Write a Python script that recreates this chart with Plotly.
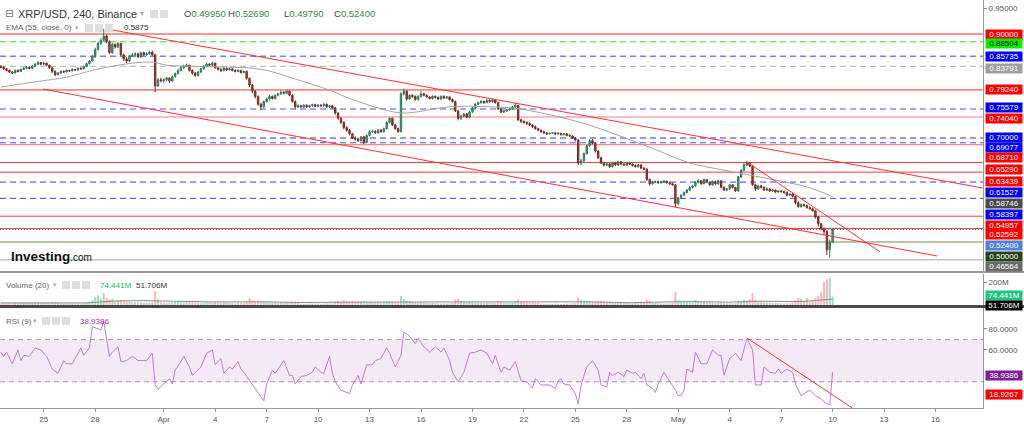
import plotly.graph_objects as go
import pandas as pd

# ---------------- data (prices in 1e-4 USD) ----------------
START = "2022-03-22 12:00"
FIRST_OPEN = 8380
CLOSE = [
    8360, 8330, 8300,
    8270, 8250, 8300, 8280, 8320, 8340,
    8360, 8340, 8380, 8420, 8450, 8420,
    8440, 8400, 8350, 8280, 8220, 8250,
    8280, 8270, 8300, 8290, 8320, 8310,
    8340, 8330, 8370, 8430, 8480, 8560,
    8700, 8820, 8880, 8960, 8850, 8640,
    8800, 8750, 8820, 8600, 8520, 8480,
    8580, 8600, 8620, 8560, 8640, 8600,
    8620, 8650, 8600, 8000, 8120, 8100,
    8120, 8150, 8100, 8180, 8240, 8300,
    8350, 8380, 8400, 8300, 8250, 8200,
    8270, 8330, 8380, 8420, 8400, 8440,
    8350, 8320, 8300, 8340, 8310, 8330,
    8300, 8280, 8300, 8260, 8280, 8150,
    8020, 7900, 7800, 7650, 7600, 7700,
    7750, 7800, 7760, 7820, 7850, 7880,
    7860, 7900, 7820, 7700, 7600, 7620,
    7600, 7630, 7600, 7620, 7640, 7610,
    7630, 7620, 7650, 7600, 7620, 7580,
    7480, 7380, 7300, 7200, 7150, 7080,
    7000, 6980, 6950, 7020, 6920, 7050,
    7120, 7130, 7100, 7150, 7120, 7180,
    7300, 7380, 7250, 7180, 7120, 7850,
    7900, 7750, 7820, 7800, 7740, 7800,
    7850, 7820, 7790, 7760, 7800, 7780,
    7750, 7800, 7770, 7790, 7740, 7700,
    7520, 7380, 7420, 7460, 7400, 7500,
    7580, 7650, 7680, 7700, 7680, 7720,
    7700, 7730, 7680, 7560, 7500, 7520,
    7540, 7560, 7600, 7630, 7350, 7320,
    7300, 7280, 7250, 7220, 7180, 7150,
    7120, 7100, 7080, 7090, 7100, 7080,
    7090, 7060, 7080, 7050, 7040, 7000,
    6960, 6520, 6560, 6700, 6850, 6950,
    6900, 6750, 6620, 6520, 6480, 6500,
    6450, 6520, 6480, 6540, 6500, 6480,
    6520, 6500, 6470, 6450, 6480, 6420,
    6400, 6200, 6120, 6150, 6160, 6140,
    6150, 6170, 6140, 6120, 6100, 5740,
    5850, 5900, 5950, 6000, 6050, 6080,
    6150, 6180, 6120, 6200, 6150, 6100,
    6160, 6120, 6180, 6050, 6000, 6020,
    6100, 6050, 5980, 6250, 6380, 6480,
    6520, 6460, 6100, 6020, 6080, 6050,
    6000, 6020, 5980, 6000, 5960, 5980,
    5970, 5950, 5900, 5920, 5880, 5760,
    5680, 5720, 5700, 5660, 5640, 5600,
    5480, 5350, 5250, 5200, 4850, 4995,
    5240,
]
HIGH = [
    8400, 8380, 8350,
    8320, 8290, 8320, 8320, 8340, 8360,
    8390, 8380, 8400, 8440, 8480, 8460,
    8470, 8450, 8410, 8360, 8300, 8270,
    8300, 8300, 8320, 8310, 8340, 8330,
    8360, 8360, 8390, 8450, 8500, 8600,
    8740, 8860, 8920, 9100, 8990, 8880,
    8830, 8820, 8850, 8830, 8620, 8560,
    8600, 8630, 8650, 8640, 8660, 8660,
    8650, 8680, 8680, 8620, 8150, 8160,
    8150, 8180, 8170, 8200, 8260, 8330,
    8380, 8410, 8430, 8410, 8320, 8270,
    8290, 8350, 8400, 8450, 8440, 8470,
    8450, 8370, 8340, 8360, 8360, 8350,
    8340, 8320, 8320, 8310, 8300, 8300,
    8160, 8040, 7920, 7820, 7680, 7720,
    7780, 7830, 7820, 7840, 7870, 7920,
    7900, 7920, 7910, 7840, 7720, 7650,
    7640, 7650, 7650, 7640, 7660, 7660,
    7650, 7650, 7670, 7660, 7640, 7640,
    7600, 7500, 7400, 7320, 7230, 7170,
    7100, 7030, 7010, 7040, 7040, 7070,
    7150, 7160, 7150, 7170, 7170, 7200,
    7320, 7400, 7390, 7270, 7200, 7880,
    7950, 7920, 7840, 7840, 7820, 7820,
    7900, 7870, 7840, 7800, 7820, 7820,
    7800, 7820, 7820, 7810, 7800, 7760,
    7720, 7540, 7440, 7480, 7480, 7520,
    7600, 7670, 7700, 7730, 7720, 7760,
    7740, 7750, 7750, 7700, 7580, 7540,
    7560, 7580, 7620, 7680, 7640, 7370,
    7340, 7320, 7300, 7270, 7240, 7200,
    7160, 7140, 7110, 7100, 7110, 7110,
    7110, 7100, 7090, 7090, 7070, 7050,
    7020, 6980, 6600, 6720, 6870, 6980,
    6980, 6920, 6770, 6640, 6540, 6520,
    6520, 6540, 6530, 6560, 6560, 6510,
    6540, 6540, 6510, 6490, 6500, 6500,
    6440, 6420, 6220, 6170, 6180, 6180,
    6170, 6190, 6180, 6160, 6140, 6110,
    5870, 5920, 5970, 6020, 6070, 6100,
    6170, 6210, 6190, 6220, 6210, 6160,
    6180, 6180, 6200, 6190, 6070, 6040,
    6120, 6110, 6060, 6270, 6400, 6520,
    6560, 6540, 6480, 6120, 6100, 6100,
    6070, 6050, 6040, 6020, 6010, 6000,
    6000, 5990, 5970, 5940, 5940, 5890,
    5780, 5740, 5740, 5720, 5680, 5660,
    5620, 5500, 5370, 5280, 5230, 5050,
    5269,
]
LOW = [
    8340, 8310, 8280,
    8250, 8230, 8240, 8260, 8270, 8310,
    8320, 8320, 8330, 8370, 8400, 8400,
    8400, 8380, 8330, 8250, 8190, 8200,
    8230, 8250, 8260, 8270, 8280, 8290,
    8290, 8310, 8320, 8360, 8410, 8470,
    8540, 8680, 8790, 8860, 8820, 8620,
    8620, 8720, 8730, 8580, 8480, 8440,
    8460, 8560, 8580, 8540, 8540, 8580,
    8580, 8600, 8580, 7880, 7980, 8070,
    8060, 8090, 8060, 8080, 8160, 8220,
    8280, 8330, 8360, 8280, 8220, 8180,
    8180, 8250, 8310, 8360, 8380, 8380,
    8330, 8300, 8270, 8280, 8290, 8300,
    8280, 8260, 8260, 8240, 8240, 8120,
    7980, 7860, 7760, 7620, 7540, 7580,
    7680, 7720, 7740, 7740, 7800, 7830,
    7840, 7840, 7800, 7680, 7560, 7580,
    7580, 7580, 7580, 7580, 7600, 7590,
    7590, 7600, 7600, 7580, 7580, 7560,
    7450, 7350, 7270, 7170, 7120, 7050,
    6980, 6950, 6920, 6930, 6880, 6900,
    7030, 7090, 7080, 7080, 7100, 7100,
    7160, 7280, 7230, 7160, 7100, 7110,
    7820, 7720, 7730, 7770, 7720, 7720,
    7780, 7800, 7770, 7740, 7740, 7760,
    7730, 7730, 7750, 7750, 7720, 7680,
    7500, 7340, 7350, 7400, 7380, 7380,
    7480, 7560, 7630, 7660, 7660, 7670,
    7680, 7680, 7660, 7540, 7480, 7480,
    7500, 7520, 7540, 7580, 7330, 7290,
    7280, 7250, 7230, 7190, 7160, 7130,
    7100, 7080, 7060, 7070, 7080, 7060,
    7060, 7050, 7050, 7030, 7020, 6980,
    6940, 6480, 6480, 6540, 6680, 6830,
    6880, 6720, 6600, 6500, 6450, 6460,
    6420, 6430, 6460, 6460, 6480, 6460,
    6460, 6480, 6450, 6430, 6430, 6400,
    6380, 6180, 6080, 6100, 6130, 6120,
    6120, 6130, 6120, 6100, 6080, 5660,
    5700, 5830, 5880, 5930, 5980, 6030,
    6060, 6130, 6100, 6110, 6130, 6080,
    6080, 6100, 6100, 6030, 5980, 5980,
    6000, 6030, 5960, 5970, 6230, 6360,
    6460, 6440, 6080, 5980, 6000, 6030,
    5980, 5980, 5960, 5960, 5940, 5950,
    5950, 5930, 5880, 5890, 5860, 5720,
    5660, 5660, 5680, 5640, 5620, 5580,
    5450, 5300, 5220, 5150, 4750, 4700,
    4979,
]
VOLUME_M = [
    18, 15, 14,
    16, 14, 18, 15, 17, 16,
    20, 16, 18, 22, 24, 18,
    20, 18, 22, 28, 26, 18,
    12, 10, 12, 11, 14, 12,
    12, 11, 15, 25, 30, 40,
    70, 85, 55, 105, 65, 50,
    55, 35, 40, 45, 40, 30,
    28, 22, 25, 24, 26, 20,
    18, 20, 22, 120, 50, 25,
    20, 18, 22, 25, 28, 30,
    28, 22, 24, 26, 22, 20,
    18, 16, 18, 22, 20, 18,
    25, 20, 22, 24, 20, 18,
    16, 14, 18, 20, 18, 28,
    60, 40, 30, 35, 30, 25,
    22, 20, 18, 20, 18, 20,
    16, 18, 20, 28, 30, 20,
    12, 10, 10, 12, 11, 12,
    12, 10, 14, 15, 12, 14,
    30, 35, 28, 40, 30, 28,
    35, 25, 28, 30, 32, 30,
    25, 20, 18, 22, 20, 22,
    30, 28, 25, 22, 20, 80,
    55, 35, 30, 25, 22, 20,
    25, 20, 18, 16, 18, 15,
    14, 12, 14, 12, 14, 20,
    50, 55, 35, 30, 25, 28,
    25, 22, 24, 20, 18, 22,
    20, 18, 16, 28, 25, 18,
    16, 18, 20, 35, 50, 30,
    25, 22, 20, 22, 20, 18,
    12, 10, 10, 11, 10, 12,
    10, 9, 10, 11, 12, 15,
    18, 65, 45, 35, 30, 28,
    22, 25, 30, 35, 28, 25,
    25, 22, 18, 20, 18, 16,
    18, 16, 15, 18, 16, 20,
    22, 45, 35, 20, 18, 16,
    14, 12, 12, 14, 18, 113,
    45, 30, 25, 28, 25, 22,
    45, 30, 25, 28, 22, 20,
    18, 16, 20, 22, 18, 16,
    15, 14, 16, 40, 35, 45,
    40, 50, 105, 45, 30, 25,
    25, 22, 20, 18, 16, 15,
    14, 12, 15, 14, 22, 40,
    60, 55, 40, 60, 30, 35,
    60, 80, 110, 200, 225, 235,
    74.441,
]
# volume MA(20), read at candle indices
VMA_IDX = [0, 30, 40, 50, 60, 75, 90, 105, 120, 135, 145, 160, 175, 190, 205, 220, 240, 255, 265, 280, 286, 291]
VMA_VAL = [18, 18, 35, 38, 33, 26, 28, 22, 25, 25, 30, 27, 24, 25, 28, 20, 30, 25, 33, 30, 45, 51.706]
# EMA(55), read at candle indices
EMA_IDX = [0, 12, 23, 32, 38, 46, 53, 58, 65, 86, 93, 105, 116, 122, 140, 157, 180, 204, 228, 241, 258, 270, 282, 291]
EMA_VAL = [0.798, 0.808, 0.817, 0.830, 0.837, 0.844, 0.846, 0.840, 0.838, 0.835, 0.830, 0.810, 0.790, 0.776,
           0.748, 0.760, 0.757, 0.728, 0.680, 0.652, 0.633, 0.620, 0.606, 0.5875]
# RSI(9), read at candle indices
RSI_IDX = [0, 1, 2, 4, 6, 7, 8, 10, 12, 14, 16, 18, 20, 22, 23, 25, 28, 29, 31, 32, 35, 36, 38, 39, 41, 42, 44, 46, 48,
           51, 53, 54, 55, 57, 59, 60, 61, 63, 64, 66, 67, 70, 72, 74, 75, 77, 78, 80, 81, 83, 84, 85, 87, 88, 90, 92,
           93, 95, 96, 99, 101, 102, 103, 105, 107, 109, 110, 112, 113, 115, 116, 117, 119, 122, 123, 125, 126, 128,
           130, 131, 133, 135, 136, 138, 140, 141, 143, 145, 146, 148, 150, 152, 154, 155, 157, 158, 160, 162, 164,
           166, 168, 170, 172, 173, 175, 176, 178, 180, 182, 184, 186, 187, 189, 192, 194, 195, 196, 197, 199, 201,
           202, 203, 205, 207, 209, 210, 212, 213, 214, 216, 218, 219, 221, 222, 224, 225, 226, 228, 229, 230, 232,
           234, 236, 237, 238, 239, 240, 242, 243, 245, 247, 249, 251, 252, 253, 255, 256, 257, 259, 261, 263, 264,
           266, 267, 269, 271, 272, 273, 275, 277, 278, 280, 281, 283, 285, 287, 288, 290, 291]
RSI_VAL = [58, 54, 58, 47, 60, 50, 55, 54, 62, 60, 54, 42, 38, 50, 47, 47, 62, 55, 62, 82, 79, 87, 54, 58, 63, 49, 50,
           54, 50, 50, 57, 27, 23, 28, 33, 28, 41, 49, 54, 44, 36, 44, 57, 60, 46, 52, 38, 44, 42, 49, 42, 39, 31, 28,
           19, 12, 28, 41, 38, 50, 36, 36, 28, 35, 36, 39, 44, 39, 38, 54, 38, 30, 22, 19, 27, 36, 28, 46, 46, 50, 52,
           62, 57, 44, 55, 77, 73, 66, 71, 63, 58, 63, 58, 62, 50, 39, 30, 39, 57, 58, 60, 57, 47, 55, 39, 44, 41, 49,
           31, 30, 24, 33, 27, 27, 24, 31, 33, 28, 27, 19, 9, 27, 44, 50, 41, 27, 25, 39, 36, 39, 35, 41, 38, 39, 33,
           38, 27, 24, 20, 28, 39, 31, 22, 17, 17, 22, 42, 39, 58, 47, 47, 60, 55, 55, 36, 52, 54, 57, 50, 71, 60, 27,
           27, 44, 39, 38, 42, 38, 42, 39, 28, 17, 19, 22, 17, 14, 11, 8, 38.94]

# drawn trend lines (time, value)
UPPER_T = ["2022-03-28 16:30", "2022-05-18 18:28"]
UPPER_P = [0.9096, 0.6038]
LOWER_T = ["2022-03-24 23:00", "2022-05-16 02:10"]
LOWER_P = [0.7942, 0.4731]
SHORT_T = ["2022-05-05 00:15", "2022-05-12 18:30"]
SHORT_P = [0.6538, 0.4808]
RSI_TL_T = ["2022-05-05 00:00", "2022-05-11 03:10"]
RSI_TL_V = [71.4, 5.5]

# horizontal levels
HLEVELS = [0.90, 0.88504, 0.85735, 0.83791, 0.79240, 0.75579, 0.74040, 0.70000, 0.69077, 0.68710,
           0.65290, 0.63439, 0.61527, 0.58397, 0.54957, 0.52592, 0.50000, 0.46564]
HCOLORS = ["#ff2a2a", "#3ad83a", "#3c3cff", "#b0b0b0", "#ff2a2a", "#4b4bff", "#ff7a7a", "#3535c8", "#4b4bff",
           "#ff6a6a", "#ff3a3a", "#ff3a3a", "#3c3cff", "#3c3cff", "#ff3a3a", "#ff3a3a", "#6f9150", "#a8a8a8"]
HDASH = ["solid", "6px,4px", "6px,4px", "6px,4px", "solid", "6px,4px", "solid", "6px,4px", "6px,4px",
         "solid", "solid", "solid", "6px,4px", "6px,4px", "solid", "solid", "solid", "solid"]
LAST_PRICE = 0.52400

# right-axis labels
LBL_TEXT = ["0.90000", "0.88504", "0.85735", "0.83791", "0.79240", "0.75579", "0.74040", "0.70000", "0.69077",
            "0.68710", "0.65290", "0.63439", "0.61527", "0.58746", "0.58397", "0.54957", "0.52592", "0.52400",
            "0.50000", "0.46564", "74.441M", "51.706M", "38.9386", "18.9267"]
LBL_BG = ["#ff0000", "#00f000", "#0000ff", "#a0a0a0", "#ff0000", "#0000ff", "#ff0000", "#0000ff", "#0000ff",
          "#ff0000", "#ff0000", "#ff0000", "#0000ff", "#4a4a4a", "#0000ff", "#ff0000", "#ff0000", "#4f7fdc",
          "#26421c", "#6a6a6a", "#1fc47c", "#000000", "#7e1f96", "#ff0000"]
LBL_FG = ["white", "black"] + ["white"] * 22
LBL_Y = [34, 44, 57, 69, 89, 108, 119, 137, 147, 158, 169, 181, 192, 203, 214, 225, 235, 245, 256, 266,
         295, 305, 375, 394]

TICK_DATES = ["2022-03-25", "2022-03-28", "2022-04-01", "2022-04-04", "2022-04-07", "2022-04-10", "2022-04-13",
              "2022-04-16", "2022-04-19", "2022-04-22", "2022-04-25", "2022-04-28", "2022-05-01", "2022-05-04",
              "2022-05-07", "2022-05-10", "2022-05-13", "2022-05-16"]
TICK_TEXT = ["25", "28", "Apr", "4", "7", "10", "13", "16", "19", "22", "25", "28", "May", "4", "7", "10", "13", "16"]

# ---------------- build ----------------
n = min(len(CLOSE), len(HIGH), len(LOW), len(VOLUME_M))
t = pd.date_range(START, periods=n, freq="4h")
close = [v / 1e4 for v in CLOSE[:n]]
high = [v / 1e4 for v in HIGH[:n]]
low = [v / 1e4 for v in LOW[:n]]
opn = [FIRST_OPEN / 1e4] + close[:-1]
vol = VOLUME_M[:n]
vcol = ["rgba(83,190,140,0.55)" if c >= o else "rgba(240,110,110,0.5)" for o, c in zip(opn, close)]

PW, PH = 983.0, 408.0
def px(x): return x / PW
def py(y): return (PH - y) / PH

FONT = "Liberation Sans, Arial, sans-serif"
fig = go.Figure()

fig.add_trace(go.Scatter(x=[t[i] for i in EMA_IDX if i < n], y=EMA_VAL[:len([i for i in EMA_IDX if i < n])],
                         mode="lines", line=dict(color="#a3a3a3", width=1, shape="spline", smoothing=0.8),
                         yaxis="y", hoverinfo="skip"))
fig.add_trace(go.Candlestick(x=t, open=opn, high=high, low=low, close=close, yaxis="y",
                             increasing=dict(line=dict(color="#2c7a57", width=1), fillcolor="#4aae82"),
                             decreasing=dict(line=dict(color="#7b2a22", width=1), fillcolor="#b23a2f"),
                             whiskerwidth=0, hoverinfo="skip"))
for T, P in ((UPPER_T, UPPER_P), (LOWER_T, LOWER_P), (SHORT_T, SHORT_P)):
    fig.add_trace(go.Scatter(x=T, y=P, mode="lines", line=dict(color="#ff3030", width=1), yaxis="y",
                             hoverinfo="skip"))

fig.add_trace(go.Bar(x=t, y=vol, marker=dict(color=vcol, line=dict(width=0)), yaxis="y2", hoverinfo="skip"))
fig.add_trace(go.Scatter(x=[t[i] for i in VMA_IDX], y=VMA_VAL, mode="lines",
                         line=dict(color="#8c8c8c", width=1), yaxis="y2", hoverinfo="skip"))

fig.add_trace(go.Scatter(x=[t[i] for i in RSI_IDX], y=RSI_VAL, mode="lines",
                         line=dict(color="#c47ad6", width=1), yaxis="y3", hoverinfo="skip"))
fig.add_trace(go.Scatter(x=RSI_TL_T, y=RSI_TL_V, mode="lines", line=dict(color="#ff3030", width=1),
                         yaxis="y3", hoverinfo="skip"))

shapes = []
for lv, c, d in zip(HLEVELS, HCOLORS, HDASH):
    shapes.append(dict(type="line", xref="x domain", x0=0, x1=1, yref="y", y0=lv, y1=lv,
                       line=dict(color=c, width=1, dash=d), layer="below"))
shapes.append(dict(type="line", xref="x domain", x0=0, x1=1, yref="y", y0=LAST_PRICE, y1=LAST_PRICE,
                   line=dict(color="#4f7fdc", width=1, dash="1px,2px"), layer="below"))
# RSI band
shapes.append(dict(type="rect", xref="x domain", x0=0, x1=1, yref="y3", y0=30, y1=70,
                   fillcolor="rgba(150,60,170,0.11)", line=dict(width=0), layer="below"))
for lv in (70, 30):
    shapes.append(dict(type="line", xref="x domain", x0=0, x1=1, yref="y3", y0=lv, y1=lv,
                       line=dict(color="#a393a8", width=1, dash="5px,4px"), layer="below"))
# panel separators
shapes.append(dict(type="line", xref="paper", yref="paper", x0=0, x1=1024 / PW, y0=py(272), y1=py(272),
                   line=dict(color="#9a9a9a", width=2)))
shapes.append(dict(type="line", xref="paper", yref="paper", x0=0, x1=1024 / PW, y0=py(306.5), y1=py(306.5),
                   line=dict(color="#4a4a4a", width=3)))
# header icons
ICONS = [(150, 10), (160, 10), (85, 24), (95, 24), (105, 24), (62, 281), (72, 281), (82, 281),
         (42, 317), (52, 317), (62, 317)]
for ix, iy in ICONS:
    shapes.append(dict(type="rect", xref="paper", yref="paper", x0=px(ix), x1=px(ix + 8), y0=py(iy + 8),
                       y1=py(iy), fillcolor="#dedede", line=dict(width=0)))

ann = []
def txt(x, y, s, size=10, color="#333", anchor="left", family=FONT):
    ann.append(dict(xref="paper", yref="paper", x=px(x), y=py(y), text=s, showarrow=False, xanchor=anchor,
                    yanchor="middle", font=dict(size=size, color=color, family=family)))

txt(3, 14, "⊟", 11, "#777", family="DejaVu Sans")
txt(16, 14, "XRP/USD, 240, Binance", 11, "#333")
txt(138, 14, "▾", 8, "#aaa", family="DejaVu Sans")
GREEN = "#2f8a4e"
for xx, lab, val in ((182, "O", "0.49950"), (226, "H", "0.52690"), (282, "L", "0.49790"), (332, "C", "0.52400")):
    txt(xx, 14, f"{lab}<span style='color:{GREEN}'>{val}</span>", 9.5, "#444")
txt(4, 28, "EMA (55, close, 0)", 8, "#666")
txt(73, 28, "▾", 7, "#aaa", family="DejaVu Sans")
txt(122, 28, "0.5875", 8, "#333")
txt(4, 285, "Volume (20)", 8, "#666")
txt(51, 285, "▾", 7, "#aaa", family="DejaVu Sans")
txt(98, 285, "74.441M", 8, "#22b36c")
txt(134, 285, "51.706M", 8, "#333")
txt(4, 321, "RSI (9)", 8, "#666")
txt(31, 321, "▾", 7, "#aaa", family="DejaVu Sans")
txt(78, 321, "38.9386", 8, "#a32fb8")
txt(9, 256, "<b>Investing</b><span style='font-size:10px'>.com</span>", 13.5, "#111")

for s, bg, fg, yy in zip(LBL_TEXT, LBL_BG, LBL_FG, LBL_Y):
    ann.append(dict(xref="paper", yref="paper", x=px(985), y=py(yy), text=s, showarrow=False, xanchor="left",
                    yanchor="middle", width=36, height=9, bgcolor=bg, borderpad=0, align="center",
                    font=dict(size=8, color=fg, family=FONT)))

axis_common = dict(showgrid=False, zeroline=False, side="right", anchor="x", ticks="outside", ticklen=3,
                   tickcolor="#888", showline=True, linecolor="#999", linewidth=1,
                   tickfont=dict(size=8, color="#555", family=FONT), fixedrange=True)

fig.update_layout(
    width=1024, height=428, margin=dict(l=0, r=41, t=0, b=20),
    paper_bgcolor="white", plot_bgcolor="white", showlegend=False, bargap=0.3,
    xaxis=dict(type="date", range=["2022-03-22 10:51", "2022-05-18 18:28"], anchor="y3",
               tickvals=TICK_DATES, ticktext=TICK_TEXT, ticks="outside", ticklen=3, tickcolor="#999",
               tickfont=dict(size=8, color="#555", family=FONT), showline=True, linecolor="#999",
               showgrid=False, zeroline=False, rangeslider=dict(visible=False), fixedrange=True),
    yaxis=dict(domain=[py(271), 1], range=[0.4442, 0.9654], tickvals=[0.95], ticktext=["0.95000"], **axis_common),
    yaxis2=dict(domain=[py(305), py(274)], range=[0, 270], tickvals=[200], ticktext=["200M"], **axis_common),
    yaxis3=dict(domain=[0, py(308)], range=[5.3, 99.6], tickvals=[80, 60], ticktext=["80.0000", "60.0000"],
                **axis_common),
    shapes=shapes, annotations=ann,
)

fig.write_html("out.html", config={"displayModeBar": False})
